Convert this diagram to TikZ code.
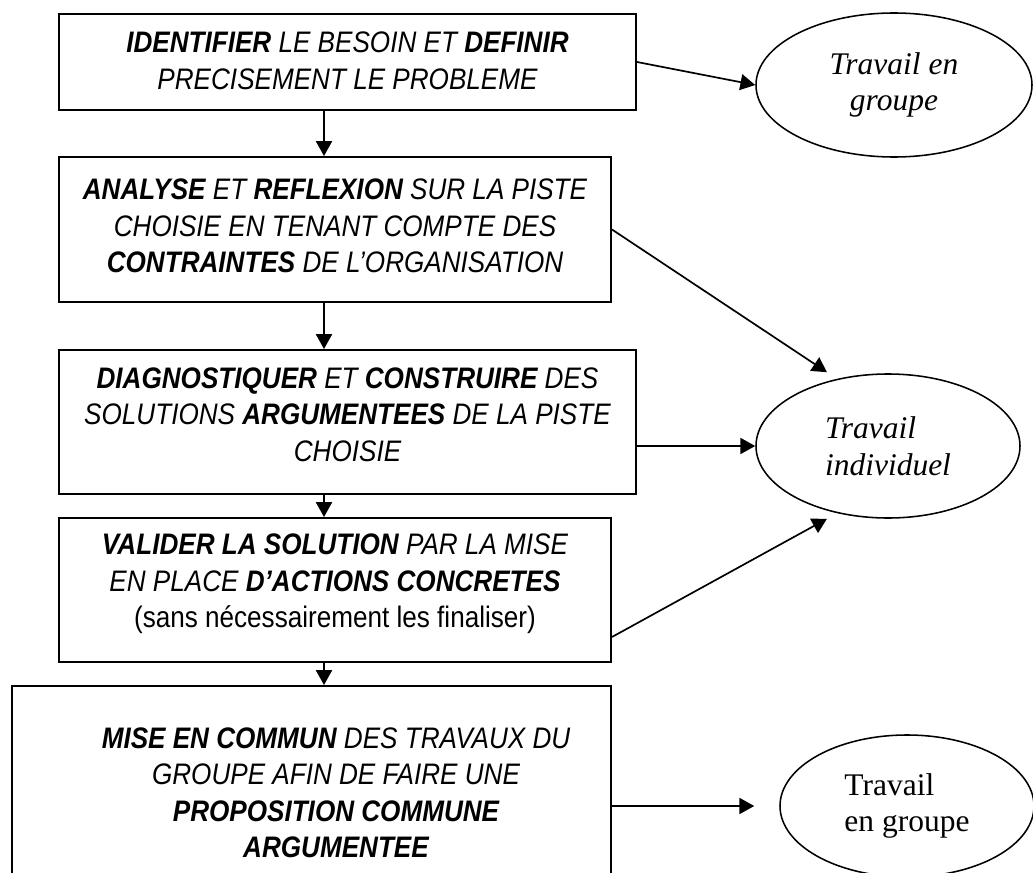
\documentclass[tikz,border=0pt]{standalone}
\usepackage{fontspec}
\setmainfont{Liberation Serif}
\newfontfamily\stepfont{Liberation Sans}[FakeStretch=0.88]
\usetikzlibrary{positioning,calc,shapes.geometric,arrows.meta}

\begin{document}
\begin{tikzpicture}[
  box/.style={draw, line width=1.4pt, inner sep=0pt},
  boxtext/.style={font=\fontsize{21.1}{26}\selectfont\stepfont\itshape, align=center, inner sep=0pt},
  bubble/.style={draw, ellipse, line width=1.1pt, inner sep=0pt, font=\fontsize{22.4}{26}\selectfont},
  arr/.style={line width=1.2pt, -{Triangle[length=0.37cm, width=0.4cm]}}
]
% Page frame (the last box runs off the bottom)
\clip (0,0) rectangle (25.825,-21.825);

% The five steps
\node[box, minimum width=14.425cm, minimum height=2.4cm] (b1) at (8.6875,-1.55) {};
\node[boxtext, below=0.47cm of b1.north] (t1) {\textbf{IDENTIFIER} LE BESOIN ET \textbf{DEFINIR}\\
  PRECISEMENT LE PROBLEME};

\node[box, minimum width=13.8cm, minimum height=3.625cm] (b2) at (8.375,-5.7375) {};
\node[boxtext, below=0.57cm of b2.north] (t2) {\textbf{ANALYSE} ET \textbf{REFLEXION} SUR LA PISTE\\
  CHOISIE EN TENANT COMPTE DES\\
  \textbf{CONTRAINTES} DE L’ORGANISATION};

\node[box, minimum width=14.425cm, minimum height=3.6cm] (b3) at (8.6875,-10.55) {};
\node[boxtext, below=0.45cm of b3.north] (t3) {\textbf{DIAGNOSTIQUER} ET \textbf{CONSTRUIRE} DES\\
  SOLUTIONS \textbf{ARGUMENTEES} DE LA PISTE\\
  CHOISIE};

\node[box, minimum width=13.8cm, minimum height=3.6cm] (b4) at (8.375,-14.75) {};
\node[boxtext, below=0.42cm of b4.north] (t4) {\textbf{VALIDER LA SOLUTION} PAR LA MISE\\
  EN PLACE \textbf{D’ACTIONS CONCRETES}\\
  {\upshape (sans nécessairement les finaliser)}};

\node[box, minimum width=14.975cm, minimum height=5.5cm] (b5) at (7.7875,-19.9) {};
\node[boxtext, below=1.05cm of b5.north, xshift=0.6125cm] (t5) {\textbf{MISE EN COMMUN} DES TRAVAUX DU\\
  GROUPE AFIN DE FAIRE UNE\\
  \textbf{PROPOSITION COMMUNE}\\
  \textbf{ARGUMENTEE}};

% Kind of work
\node[bubble, minimum width=6.9cm, minimum height=3.6cm, align=center] (e1) at (22.35,-2.125) {\itshape Travail en\\ \itshape groupe};
\node[bubble, minimum width=6.6cm, minimum height=3.6cm, align=left] (e2) at (22.2,-11.15) {\itshape Travail\\ \itshape individuel};
\node[bubble, minimum width=6.35cm, minimum height=3.55cm, align=left] (e3) at (22.675,-20.15) {Travail\\ en groupe};

% Flow down the steps
\coordinate (col) at (8.1,0);
\draw[arr] (b1.south -| col) -- (b2.north -| col);
\draw[arr] (b2.south -| col) -- (b3.north -| col);
\draw[arr] (b3.south -| col) -- (b4.north -| col);
\draw[arr] (b4.south -| col) -- (b5.north -| col);

% Steps to kind of work
\coordinate (e2top) at ($(e2.north)+(-1.525,0.025)$);
\coordinate (e2bot) at ($(e2.south)+(-1.525,0)$);
\draw[arr] (b1.east) -- (e1.west);
\draw[arr] (b2.east) -- (e2top);
\draw[arr] (e2.west -| b3.east) -- (e2.west);
\draw[arr] ($(b4.east)+(0,-1.175)$) -- (e2bot);
\draw[arr, shorten >=0.625cm] (e3.west -| b5.east) -- (e3.west);
\end{tikzpicture}
\end{document}
